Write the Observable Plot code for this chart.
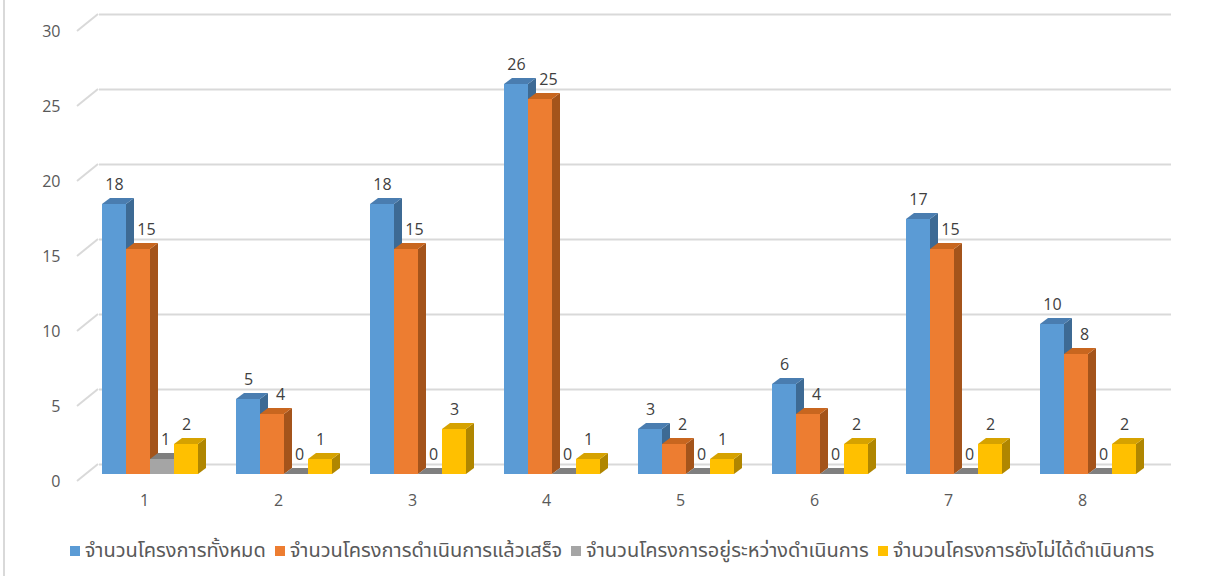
<!DOCTYPE html>
<html>
<head>
<meta charset="utf-8">
<script src="https://cdn.jsdelivr.net/npm/d3@7"></script>
<script src="https://cdn.jsdelivr.net/npm/@observablehq/plot@0.6"></script>
<style>
  body { margin: 0; background: #fff; font-family: "Open Sans", "Noto Sans Thai", "Noto Sans", "DejaVu Sans", sans-serif; }
  #wrap { position: relative; width: 1216px; height: 576px; overflow: hidden; }
  #border { position: absolute; left: 3px; top: 0; width: 2px; height: 576px; background: #d9d9d9; }
  #legend { display: flex; justify-content: center; align-items: center; gap: 9px; font-size: 20px; color: #595959; margin-top: 19px; height: 24px; padding-left: 8px; }
  .item { display: flex; align-items: center; white-space: nowrap; }
  .sw { width: 10px; height: 10px; margin-right: 5px; display: inline-block; }
</style>
</head>
<body>
<div id="wrap">
  <div id="border"></div>
  <div id="chart"></div>
  <div id="legend"></div>
</div>
<script>
// ---- data ----
const groups = ["1", "2", "3", "4", "5", "6", "7", "8"];
const seriesNames = [
  "จำนวนโครงการทั้งหมด",
  "จำนวนโครงการดำเนินการแล้วเสร็จ",
  "จำนวนโครงการอยู่ระหว่างดำเนินการ",
  "จำนวนโครงการยังไม่ได้ดำเนินการ"
];
const totalProjects      = [18, 5, 18, 26, 3, 6, 17, 10];
const completedProjects  = [15, 4, 15, 25, 2, 4, 15, 8];
const inProgressProjects = [1, 0, 0, 0, 0, 0, 0, 0];
const notStartedProjects = [2, 1, 3, 1, 1, 2, 2, 2];
const yTicks = [0, 5, 10, 15, 20, 25, 30];

// ---- styles ----
const seriesColors = ["#5b9bd5", "#ed7d31", "#a5a5a5", "#ffc000"];
const topColors    = ["#4a7db0", "#c8661f", "#7f7f7f", "#d6a200"];
const sideColors   = ["#3d6a94", "#a4541b", "#6f6f6f", "#b08600"];

const seriesValues = [totalProjects, completedProjects, inProgressProjects, notStartedProjects];
const data = groups.flatMap((g, gi) =>
  seriesNames.map((s, si) => ({group: g, series: s, value: seriesValues[si][gi]}))
);

const BAR_DY = 10;          // bars sit in front of the back wall
const labelDx = [0, 8, 3, 0];
const FONT = '"Open Sans", "Noto Sans Thai", "Noto Sans", sans-serif';

const plot = Plot.plot({
  width: 1216,
  height: 520,
  marginLeft: 78,
  marginRight: 64,
  marginTop: 14,
  marginBottom: 56,
  style: {fontFamily: FONT, fontSize: "16px", color: "#595959", background: "transparent", overflow: "visible"},
  fx: {domain: groups, padding: 0, axis: null},
  x: {domain: seriesNames, paddingInner: 0, paddingOuter: 0.74, align: 0.6, axis: null},
  y: {domain: [0, 30], axis: null},
  color: {domain: seriesNames, range: seriesColors},
  marks: [
    Plot.ruleY(yTicks, {y: d => d, dx: 20, stroke: "#d9d9d9", strokeWidth: 2}),
    Plot.text(yTicks, {fx: () => groups[0], y: d => d, text: d => String(d), frameAnchor: "left", textAnchor: "end", dx: -19, dy: 17, fill: "#595959"}),
    Plot.text(groups, {fx: d => d, text: d => d, frameAnchor: "bottom", dx: -2, dy: 41, fill: "#595959"}),
    Plot.barY(data, {fx: "group", x: "series", y: "value", fill: "series", dy: BAR_DY}),
    ...seriesNames.map((s, i) => Plot.text(data, {
      filter: d => d.series === s,
      fx: "group", x: "series", y: "value",
      text: d => String(d.value),
      dy: BAR_DY - 20, dx: labelDx[i], fill: "#404040"
    }))
  ]
});

document.getElementById("chart").appendChild(plot);

// ---- 3D faces for bars (from the rendered rects) ----
const D = 8, DV = 6;
const colorIndex = new Map(seriesColors.map((c, i) => [c.toLowerCase(), i]));
plot.querySelectorAll("rect").forEach(r => {
  const fill = (r.getAttribute("fill") || "").toLowerCase();
  if (!colorIndex.has(fill)) return;
  const i = colorIndex.get(fill);
  const x = +r.getAttribute("x"), y = +r.getAttribute("y");
  const w = +r.getAttribute("width"), h = +r.getAttribute("height");
  const ns = "http://www.w3.org/2000/svg";
  const side = document.createElementNS(ns, "polygon");
  side.setAttribute("points", `${x + w},${y} ${x + w + D},${y - DV} ${x + w + D},${y + h - DV} ${x + w},${y + h}`);
  side.setAttribute("fill", sideColors[i]);
  const top = document.createElementNS(ns, "polygon");
  top.setAttribute("points", `${x},${y} ${x + D},${y - DV} ${x + w + D},${y - DV} ${x + w},${y}`);
  top.setAttribute("fill", topColors[i]);
  r.after(side);
  side.after(top);
});

// ---- perspective diagonals at the left of the gridlines ----
const yScale = plot.scale("y");
const svg = d3.select(plot);
const diag = svg.insert("g", ":first-child");
yTicks.forEach(v => {
  const y = yScale.apply(v);
  diag.append("line")
    .attr("x1", 77).attr("y1", y + 17)
    .attr("x2", 98).attr("y2", y)
    .attr("stroke", "#d9d9d9").attr("stroke-width", 2);
});

// ---- legend ----
const legend = d3.select("#legend");
seriesNames.forEach((s, i) => {
  const it = legend.append("div").attr("class", "item");
  it.append("span").attr("class", "sw").style("background", seriesColors[i]);
  it.append("span").text(s);
});
</script>
</body>
</html>
